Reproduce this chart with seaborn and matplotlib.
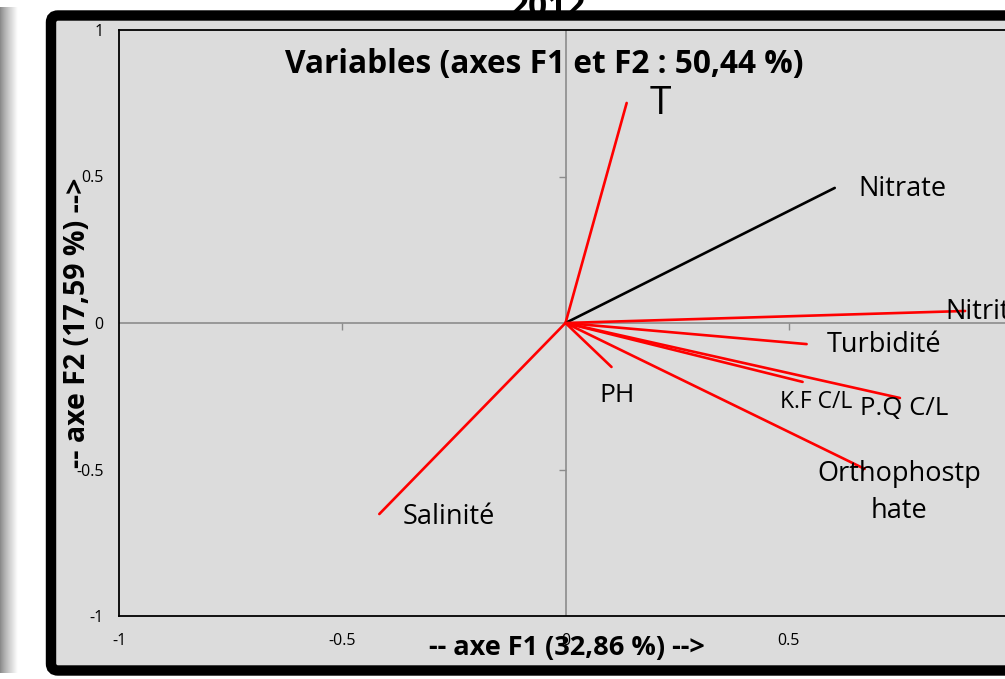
import numpy as np
import pandas as pd
import matplotlib
matplotlib.use("Agg")
import matplotlib.pyplot as plt
from matplotlib.patches import FancyBboxPatch
from matplotlib.ticker import FuncFormatter
import seaborn as sns

# Correlations of the variables with the first two factorial axes
variables = ["T", "Nitrate", "Nitrite", "Turbidité", "K.F C/L", "P.Q C/L",
             "Orthophostp\nhate", "PH", "Salinité"]
f1_values = [0.137, 0.603, 0.895, 0.540, 0.531, 0.749, 0.670, 0.103, -0.417]
f2_values = [0.751, 0.461, 0.041, -0.072, -0.201, -0.256, -0.498, -0.150, -0.652]
vector_colors = ["#ff0000", "#000000", "#ff0000", "#ff0000", "#ff0000",
                 "#ff0000", "#ff0000", "#ff0000", "#ff0000"]

x_tick_values = [-1, -0.5, 0, 0.5]
y_tick_values = [-1, -0.5, 0, 0.5, 1]
tick_labels = {-1: "-1", -0.5: "-0.5", 0: "0", 0.5: "0.5", 1: "1"}

title = "Variables (axes F1 et F2 : 50,44 %)"
xlabel = "-- axe F1 (32,86 %) -->"
ylabel = "-- axe F2 (17,59 %) -->"
year = "2012"

# label placement: offset in points from the vector tip, font size, alignment
label_style = {
    "T": dict(off=(24, -1), size=28, ha="center"),
    "Nitrate": dict(off=(49, -1), size=19.5, ha="center"),
    "Nitrite": dict(off=(-14, -1), size=19.5, ha="left"),
    "Turbidité": dict(off=(56, -1), size=19.5, ha="center"),
    "K.F C/L": dict(off=(10, -14.4), size=16.5, ha="center"),
    "P.Q C/L": dict(off=(3, -7.2), size=18.5, ha="center"),
    "Orthophostp\nhate": dict(off=(25, -17), size=19.5, ha="center"),
    "PH": dict(off=(4.3, -20.9), size=19, ha="center"),
    "Salinité": dict(off=(50.4, -2.2), size=19.5, ha="center"),
}

sns.set_theme(style="white")
plt.rcParams["font.family"] = ["Open Sans", "DejaVu Sans"]
plt.rcParams["text.color"] = "black"
plt.rcParams["xtick.color"] = "black"
plt.rcParams["ytick.color"] = "black"

BG = "#dcdcdc"
fig = plt.figure(figsize=(10.05, 6.79), dpi=100)
fig.patch.set_facecolor("white")

# soft shadow strip on the left edge
sh = fig.add_axes([0, 6 / 679, 17 / 1005, 666 / 679], zorder=-3)
grad = np.linspace(0, 1, 64) ** 0.8
sh.imshow(np.vstack([grad, grad]), aspect="auto", cmap="gray",
          vmin=-1.1, vmax=1.0, interpolation="bilinear")
sh.set_axis_off()

# heavy rounded frame around the chart area
frame = FancyBboxPatch((0.51, 0.085), 10.2, 6.55,
                       boxstyle="round,pad=0,rounding_size=0.07",
                       transform=fig.dpi_scale_trans, facecolor=BG,
                       edgecolor="black", linewidth=7.5, zorder=-1)
fig.add_artist(frame)
fig.text(548 / 1005, 1 - 16 / 679, year, ha="center", va="baseline",
         fontsize=24, fontweight="bold", color="black", zorder=-2)

ax = fig.add_axes([119 / 1005, 63 / 679, 893 / 1005, 586 / 679])
ax.set_facecolor(BG)
ax.set_xlim(-1, 1)
ax.set_ylim(-1, 1)

# reference axes through the origin with small ticks
ax.axhline(0, color="#8c8c8c", lw=1.2, zorder=1)
ax.axvline(0, color="#8c8c8c", lw=1.2, zorder=1)
ax.plot([-0.5, 0.5], [0, 0], ls="none", marker=3, ms=5, mew=1,
        color="#8c8c8c", zorder=1)
ax.plot([0, 0], [-0.5, 0.5], ls="none", marker=0, ms=5, mew=1,
        color="#8c8c8c", zorder=1)

# vectors from the origin to each variable
rows = []
for name, x, y in zip(variables, f1_values, f2_values):
    rows.append({"variable": name, "F1": 0.0, "F2": 0.0})
    rows.append({"variable": name, "F1": x, "F2": y})
vec_df = pd.DataFrame(rows)
palette = dict(zip(variables, vector_colors))
sns.lineplot(data=vec_df, x="F1", y="F2", hue="variable", units="variable",
             estimator=None, sort=False, palette=palette, legend=False,
             lw=1.9, ax=ax, zorder=3)

for name, x, y in zip(variables, f1_values, f2_values):
    st = label_style[name]
    ax.annotate(name, xy=(x, y), xytext=st["off"], textcoords="offset points",
                ha=st["ha"], va="center", fontsize=st["size"],
                multialignment="center", linespacing=1.45, color="black",
                zorder=4)

# corner point fixing the scale
ax.plot([1], [1], ls="none", marker="D", ms=7, color="#4f81bd",
        clip_on=False, zorder=5)

ax.set_xticks(x_tick_values)
ax.set_yticks(y_tick_values)
fmt = FuncFormatter(lambda v, p: tick_labels.get(round(v, 2), ""))
ax.xaxis.set_major_formatter(fmt)
ax.yaxis.set_major_formatter(fmt)
ax.tick_params(axis="x", length=0, pad=12, labelsize=11.5, labelcolor="black")
ax.tick_params(axis="y", length=0, pad=11, labelsize=11.5, labelcolor="black")
ax.grid(False)

for side in ["left", "top", "bottom"]:
    ax.spines[side].set_visible(True)
    ax.spines[side].set_color("black")
    ax.spines[side].set_linewidth(1.3)
ax.spines["right"].set_visible(False)

ax.set_xlabel("")
ax.set_ylabel("")
ax.text(0.5017, -0.0546, xlabel, transform=ax.transAxes, ha="center",
        va="center", fontsize=19.5, fontweight="bold", zorder=6)
ax.text(-0.046, 0.5, ylabel, transform=ax.transAxes, ha="center",
        va="center", rotation=90, fontsize=20.5, fontweight="bold", zorder=6)
ax.text(0.476, 0.9405, title, transform=ax.transAxes, ha="center",
        va="center", fontsize=22.8, fontweight="bold", zorder=6)

fig.savefig("out.png", dpi=100)
